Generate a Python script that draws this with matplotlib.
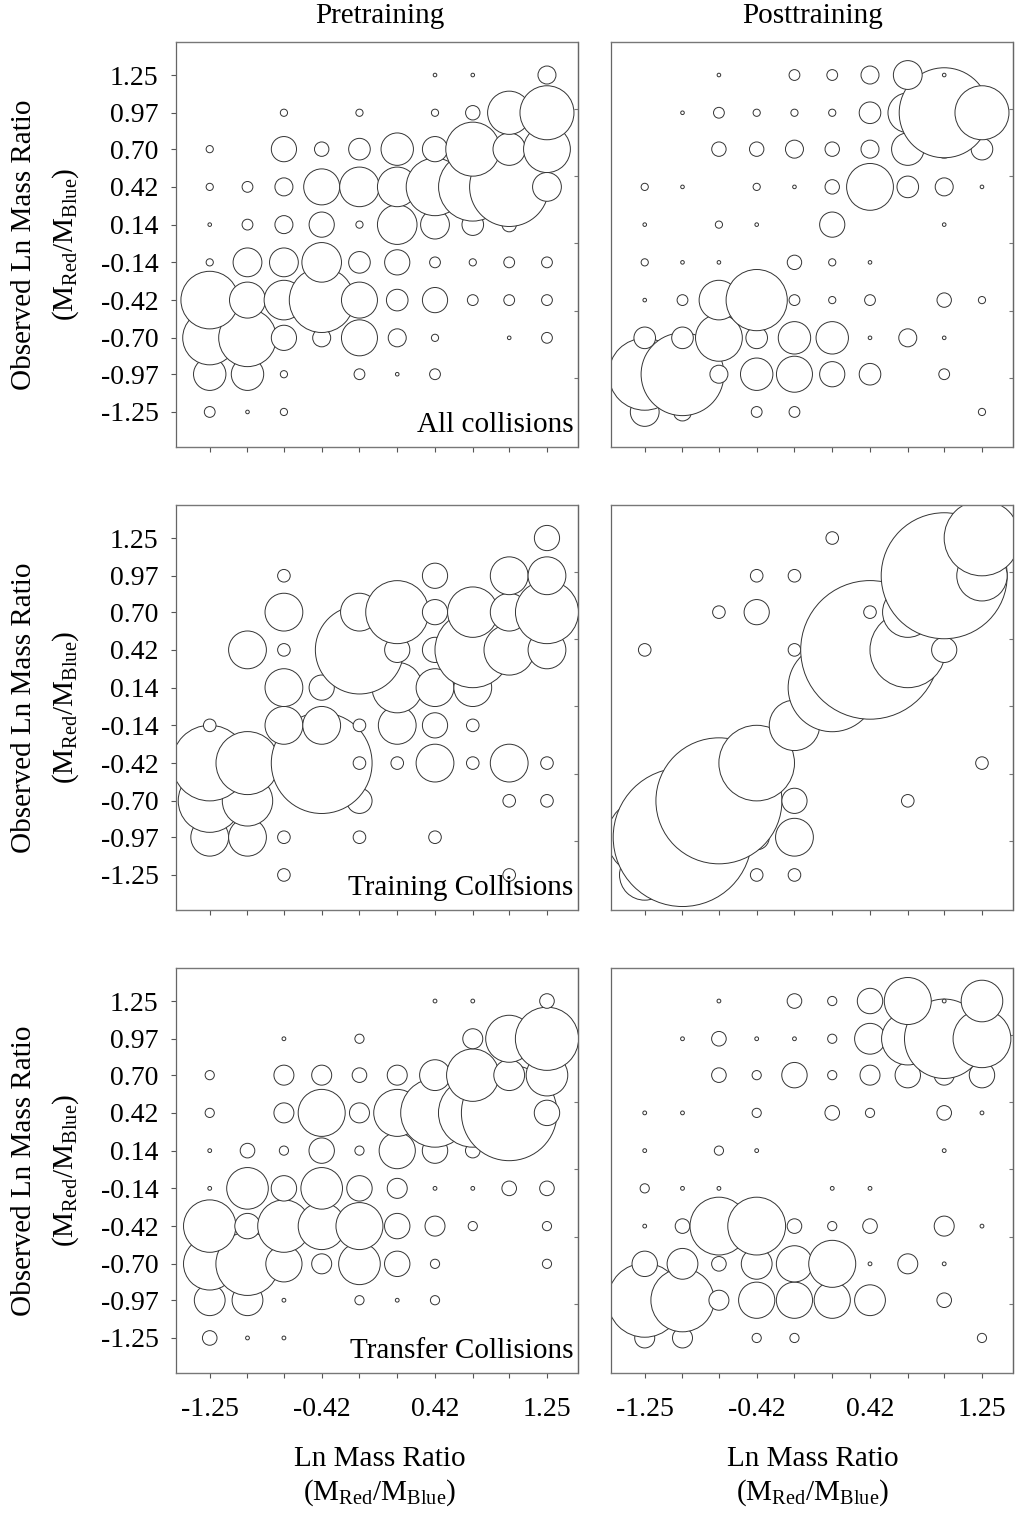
import numpy as np
import matplotlib
matplotlib.use("Agg")
import matplotlib.pyplot as plt

plt.rcParams['font.family'] = ['Liberation Serif', 'DejaVu Serif']
plt.rcParams['mathtext.fontset'] = 'custom'
plt.rcParams['mathtext.rm'] = 'Liberation Serif'
plt.rcParams['mathtext.it'] = 'Liberation Serif:italic'

# Ln mass ratio categories (actual on x, observed on y)
ratios = [-1.25, -0.97, -0.70, -0.42, -0.14, 0.14, 0.42, 0.70, 0.97, 1.25]
ratio_labels = ["-1.25", "-0.97", "-0.70", "-0.42", "-0.14",
                "0.14", "0.42", "0.70", "0.97", "1.25"]
x_shown = ["-1.25", "-0.42", "0.42", "1.25"]
right_ticks = [-1.0, -0.5, 0.0, 0.5, 1.0]

# counts: rows = observed ratio from 1.25 (top) to -1.25 (bottom),
# columns = actual ratio from -1.25 to 1.25
pre_all = [
    [0, 0, 0, 0, 0, 0, 1, 1, 0, 5],
    [0, 0, 2, 0, 2, 0, 2, 4, 12, 15],
    [2, 0, 7, 4, 6, 9, 7, 15, 9, 13],
    [2, 3, 5, 10, 11, 11, 16, 19, 22, 8],
    [1, 3, 5, 7, 2, 11, 8, 6, 4, 0],
    [2, 8, 8, 11, 6, 7, 3, 2, 3, 3],
    [16, 10, 11, 18, 10, 6, 7, 3, 3, 3],
    [15, 16, 7, 5, 10, 5, 2, 0, 1, 3],
    [9, 9, 2, 0, 3, 1, 3, 0, 0, 0],
    [3, 1, 2, 0, 0, 0, 0, 0, 0, 0],
]
post_all = [
    [0, 0, 1, 0, 3, 3, 5, 8, 1, 0],
    [0, 1, 3, 2, 2, 2, 6, 11, 25, 15],
    [0, 0, 4, 4, 5, 4, 5, 9, 5, 6],
    [2, 1, 0, 2, 1, 4, 13, 6, 5, 1],
    [1, 0, 2, 1, 0, 7, 0, 0, 1, 0],
    [2, 1, 1, 0, 4, 2, 1, 0, 0, 0],
    [1, 3, 11, 17, 3, 2, 3, 0, 4, 2],
    [6, 6, 13, 6, 9, 9, 1, 5, 1, 0],
    [20, 23, 5, 9, 10, 7, 6, 0, 3, 0],
    [8, 5, 0, 3, 3, 0, 0, 0, 0, 2],
]
pre_train = [
    [0, 0, 0, 0, 0, 0, 0, 0, 0, 2],
    [0, 0, 1, 0, 0, 0, 2, 0, 3, 3],
    [0, 0, 3, 0, 3, 5, 2, 4, 3, 5],
    [0, 3, 1, 0, 7, 2, 2, 6, 4, 3],
    [0, 0, 3, 2, 0, 4, 3, 3, 0, 0],
    [1, 0, 3, 3, 1, 3, 2, 1, 0, 0],
    [6, 5, 0, 8, 1, 1, 3, 1, 3, 1],
    [5, 4, 0, 0, 2, 0, 0, 0, 1, 1],
    [3, 3, 1, 0, 1, 0, 1, 0, 0, 0],
    [0, 0, 1, 0, 0, 0, 0, 0, 1, 0],
]
post_train = [
    [0, 0, 0, 0, 0, 1, 0, 0, 0, 6],
    [0, 0, 0, 1, 1, 0, 0, 0, 10, 4],
    [0, 0, 1, 2, 0, 0, 1, 4, 0, 1],
    [1, 0, 0, 0, 1, 0, 11, 6, 2, 0],
    [0, 0, 0, 0, 0, 7, 0, 0, 0, 0],
    [0, 0, 0, 0, 4, 0, 0, 0, 0, 0],
    [0, 0, 0, 6, 0, 0, 0, 0, 0, 1],
    [0, 0, 10, 0, 2, 0, 0, 1, 0, 0],
    [6, 11, 0, 2, 3, 0, 0, 0, 0, 0],
    [4, 0, 0, 1, 1, 0, 0, 0, 0, 0],
]
pre_transfer = [
    [0, 0, 0, 0, 0, 0, 1, 1, 0, 3],
    [0, 0, 1, 0, 2, 0, 0, 4, 9, 12],
    [2, 0, 4, 4, 3, 4, 6, 10, 6, 8],
    [2, 0, 4, 9, 4, 9, 13, 13, 18, 5],
    [1, 3, 2, 5, 2, 7, 5, 3, 2, 0],
    [1, 8, 5, 8, 5, 4, 1, 1, 3, 3],
    [10, 5, 10, 9, 9, 5, 4, 2, 0, 2],
    [10, 12, 7, 4, 8, 5, 2, 0, 0, 2],
    [6, 6, 1, 0, 2, 1, 2, 0, 0, 0],
    [3, 1, 1, 0, 0, 0, 0, 0, 0, 0],
]
post_transfer = [
    [0, 0, 1, 0, 3, 2, 5, 9, 1, 8],
    [0, 1, 3, 1, 1, 2, 6, 10, 15, 11],
    [0, 0, 3, 2, 5, 2, 4, 5, 4, 5],
    [1, 1, 0, 2, 0, 3, 2, 0, 3, 1],
    [1, 0, 2, 1, 0, 0, 0, 0, 1, 0],
    [2, 1, 1, 0, 0, 1, 1, 0, 0, 0],
    [1, 3, 11, 11, 3, 2, 3, 0, 4, 1],
    [5, 6, 3, 6, 7, 9, 1, 4, 1, 0],
    [14, 12, 4, 7, 7, 7, 6, 0, 3, 0],
    [4, 4, 0, 2, 2, 0, 0, 0, 0, 2],
]

row_titles = ["All collisions", "Training Collisions", "Transfer Collisions"]
panels = [[pre_all, post_all], [pre_train, post_train], [pre_transfer, post_transfer]]
# bubble radius in pixels: base + step * (count - 1)
bubble_scale = [(1.8, 1.8), (6.3, 6.3), (1.9, 2.7)]

DPI = 100
W, H = 1016, 1515
fig = plt.figure(figsize=(W / DPI, H / DPI), dpi=DPI)

col_left = [176, 611]
row_top = [42, 505, 968]
ax_w, ax_h = 402, 405
ylab = r'(M$_{\mathrm{Red}}$/M$_{\mathrm{Blue}}$)'

for r in range(3):
    base, step = bubble_scale[r]
    for c in range(2):
        ax = fig.add_axes([col_left[c] / W, 1 - (row_top[r] + ax_h) / H, ax_w / W, ax_h / H])
        counts = np.array(panels[r][c])
        xs, ys, ss = [], [], []
        # draw from the bottom row upwards, left to right
        for i in range(9, -1, -1):
            for j in range(10):
                n = counts[i, j]
                if n <= 0:
                    continue
                rad = base + step * (n - 1)
                xs.append(ratios[j])
                ys.append(ratios[9 - i])
                ss.append((2 * rad * 72 / DPI) ** 2)
        ax.scatter(xs, ys, s=ss, facecolors='white', edgecolors='#333333',
                   linewidths=0.7, clip_on=True, zorder=2)
        ax.set_xlim(-1.5, 1.48)
        ax.set_ylim(-1.51, 1.495)

        ax.set_xticks(ratios)
        if r == 2:
            ax.set_xticklabels([l if l in x_shown else '' for l in ratio_labels])
        else:
            ax.set_xticklabels([])
        ax.set_yticks(ratios)
        if c == 0:
            ax.set_yticklabels(ratio_labels)
            ax.tick_params(axis='y', left=True, labelleft=True)
        else:
            ax.tick_params(axis='y', left=False, labelleft=False)
        ax.tick_params(axis='both', direction='out', length=3.5, width=0.8,
                       color='#555555', labelsize=20, pad=9)
        ax.tick_params(axis='x', pad=14)

        sec = ax.secondary_yaxis('right')
        sec.set_yticks(right_ticks)
        sec.tick_params(direction='in', length=3, width=0.8, color='#777777',
                        labelright=False)
        sec.spines['right'].set_color('#777777')
        sec.spines['right'].set_linewidth(0.9)

        for side in ['left', 'right']:
            ax.spines[side].set_color('#666666')
            ax.spines[side].set_linewidth(0.9)
        for side in ['top', 'bottom']:
            ax.spines[side].set_color('#777777')
            ax.spines[side].set_linewidth(1.0)
            ax.spines[side].set_linestyle((0, (1, 1)))

        if c == 0:
            ax.text(0.988, 0.038, row_titles[r], transform=ax.transAxes,
                    ha='right', va='baseline', fontsize=21, zorder=5)
            yc = 1 - (row_top[r] + ax_h / 2) / H
            fig.text(24 / W, yc, 'Observed Ln Mass Ratio', rotation=90,
                     ha='center', va='center', fontsize=21)
            fig.text(66 / W, yc, ylab, rotation=90, ha='center', va='center', fontsize=21)

fig.text(380 / W, 1 - 16 / H, 'Pretraining', ha='center', va='center', fontsize=21)
fig.text(813 / W, 1 - 16 / H, 'Posttraining', ha='center', va='center', fontsize=21)
for xc in [380, 813]:
    fig.text(xc / W, 1 - 1459 / H, 'Ln Mass Ratio', ha='center', va='center', fontsize=21)
    fig.text(xc / W, 1 - 1493 / H, ylab, ha='center', va='center', fontsize=21)

fig.savefig('out.png', dpi=DPI)
